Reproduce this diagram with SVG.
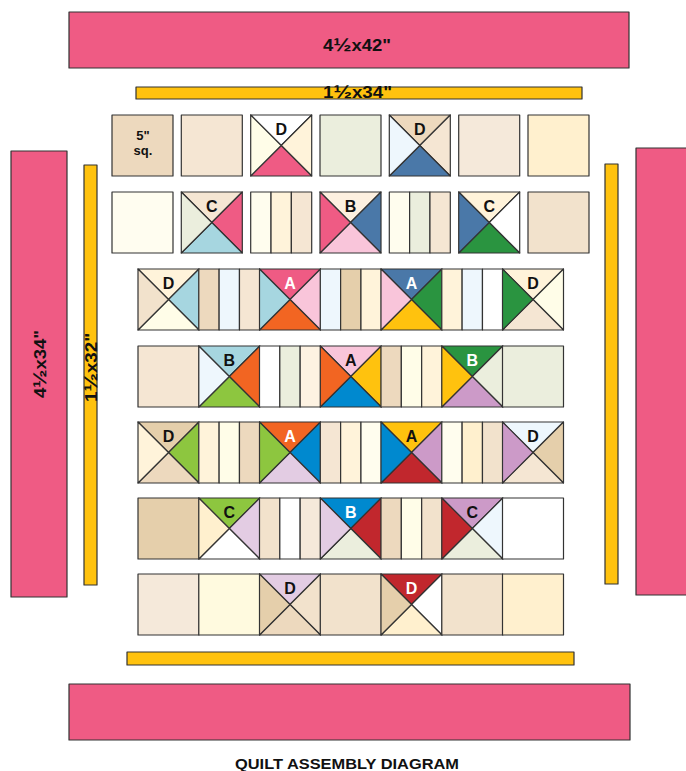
<svg xmlns="http://www.w3.org/2000/svg" xmlns:xlink="http://www.w3.org/1999/xlink" width="686" height="771" viewBox="0 0 686 771">
<style>
.s{stroke:#333;stroke-width:1.2;stroke-linejoin:round}
.pk{fill:#EF5B84}
.yl{fill:#FFC20E}
.lb{font-family:"Liberation Sans",Arial,sans-serif;font-weight:bold;font-size:16px;text-anchor:middle}
.bt{font-family:"Liberation Sans",Arial,sans-serif;font-weight:bold;text-anchor:middle;fill:#111}
.dim{font-family:"Liberation Sans",Arial,sans-serif;font-weight:bold;font-size:16px;text-anchor:middle;fill:#111;stroke:none}
</style>
<defs>
<path id="tT" d="M0,0 L61,0 L30.5,30.5Z"/>
<path id="tR" d="M61,0 L61,61 L30.5,30.5Z"/>
<path id="tB" d="M0,61 L61,61 L30.5,30.5Z"/>
<path id="tL" d="M0,0 L0,61 L30.5,30.5Z"/>
<rect id="sq" width="61" height="61"/>
<rect id="s1" x="0" width="20.33" height="61"/>
<rect id="s2" x="20.33" width="20.33" height="61"/>
<rect id="s3" x="40.67" width="20.33" height="61"/>
</defs>
<rect width="686" height="771" fill="#fff"/>

<!-- borders -->
<g id="border-top" class="s">
<rect class="pk" x="69" y="12" width="560" height="56"/>
<text class="dim" x="357" y="51" textLength="68" lengthAdjust="spacingAndGlyphs">4<tspan font-size="19">½</tspan>x42"</text>
</g>
<g id="sash-top" class="s">
<rect class="yl" x="136" y="87" width="446" height="12"/>
<text class="dim" x="357.5" y="98" textLength="69" lengthAdjust="spacingAndGlyphs">1<tspan font-size="19">½</tspan>x34"</text>
</g>
<g id="border-left" class="s">
<rect class="pk" x="11" y="151" width="56" height="446"/>
<text class="dim" transform="translate(46,364) rotate(-90)" textLength="68" lengthAdjust="spacingAndGlyphs">4<tspan font-size="19">½</tspan>x34"</text>
</g>
<g id="sash-left" class="s">
<rect class="yl" x="84" y="165" width="13" height="420"/>
<text class="dim" transform="translate(97,367.5) rotate(-90)" textLength="69" lengthAdjust="spacingAndGlyphs">1<tspan font-size="19">½</tspan>x32"</text>
</g>
<g id="sash-right" class="s"><rect class="yl" x="605" y="164" width="13" height="420"/></g>
<g id="border-right" class="s"><rect class="pk" x="636" y="148" width="60" height="447"/></g>
<g id="sash-bottom" class="s"><rect class="yl" x="127" y="652" width="447" height="13"/></g>
<g id="border-bottom" class="s"><rect class="pk" x="69" y="684" width="561" height="56"/></g>

<!-- Row 1 -->
<g id="r1b1" class="s" transform="translate(112,115)"><use href="#sq" fill="#EDD9BE"/>
<text class="bt" x="31" y="25" font-size="13" stroke="none">5"</text><text class="bt" x="31" y="40" font-size="13" stroke="none">sq.</text></g>
<g id="r1b2" class="s" transform="translate(181.3,115)"><use href="#sq" fill="#F5E6D3"/></g>
<g id="r1b3" class="s" transform="translate(250.7,115)"><use href="#tT" fill="#FFFFFF"/><use href="#tR" fill="#FFF3DA"/><use href="#tB" fill="#EF5B84"/><use href="#tL" fill="#FFFDE8"/><text class="lb" x="30.5" y="20" stroke="none" fill="#111">D</text></g>
<g id="r1b4" class="s" transform="translate(320,115)"><use href="#sq" fill="#EBEEDD"/></g>
<g id="r1b5" class="s" transform="translate(389.3,115)"><use href="#tT" fill="#EDD9BE"/><use href="#tR" fill="#F5E6D3"/><use href="#tB" fill="#4A78A8"/><use href="#tL" fill="#EEF7FD"/><text class="lb" x="30.5" y="20" stroke="none" fill="#111">D</text></g>
<g id="r1b6" class="s" transform="translate(458.7,115)"><use href="#sq" fill="#F5E9DA"/></g>
<g id="r1b7" class="s" transform="translate(528,115)"><use href="#sq" fill="#FFF0CE"/></g>

<!-- Row 2 -->
<g id="r2b1" class="s" transform="translate(112,192)"><use href="#sq" fill="#FFFDF0"/></g>
<g id="r2b2" class="s" transform="translate(181.3,192)"><use href="#tT" fill="#F5E6D3"/><use href="#tR" fill="#EF5B84"/><use href="#tB" fill="#A6D6E0"/><use href="#tL" fill="#EBEEDD"/><text class="lb" x="30.5" y="20" stroke="none" fill="#111">C</text></g>
<g id="r2b3" class="s" transform="translate(250.7,192)"><use href="#s1" fill="#FFFDEE"/><use href="#s2" fill="#FFF3DA"/><use href="#s3" fill="#F5E6D3"/></g>
<g id="r2b4" class="s" transform="translate(320,192)"><use href="#tT" fill="#FDF0E0"/><use href="#tR" fill="#4A78A8"/><use href="#tB" fill="#F9C5DA"/><use href="#tL" fill="#EF5B84"/><text class="lb" x="30.5" y="20" stroke="none" fill="#111">B</text></g>
<g id="r2b5" class="s" transform="translate(389.3,192)"><use href="#s1" fill="#FFFDEE"/><use href="#s2" fill="#EBEEDD"/><use href="#s3" fill="#F5E6D3"/></g>
<g id="r2b6" class="s" transform="translate(458.7,192)"><use href="#tT" fill="#FFF3DA"/><use href="#tR" fill="#FFFFFF"/><use href="#tB" fill="#2A9440"/><use href="#tL" fill="#4A78A8"/><text class="lb" x="30.5" y="20" stroke="none" fill="#111">C</text></g>
<g id="r2b7" class="s" transform="translate(528,192)"><use href="#sq" fill="#F2E2CC"/></g>

<!-- Row 3 -->
<g id="r3b1" class="s" transform="translate(138,269)"><use href="#tT" fill="#FFF3DA"/><use href="#tR" fill="#A6D6E0"/><use href="#tB" fill="#FFFDE8"/><use href="#tL" fill="#F2E2CC"/><text class="lb" x="30.5" y="20" stroke="none" fill="#111">D</text></g>
<g id="r3b2" class="s" transform="translate(198.8,269)"><use href="#s1" fill="#EDD9BE"/><use href="#s2" fill="#EEF7FD"/><use href="#s3" fill="#F5E6D3"/></g>
<g id="r3b3" class="s" transform="translate(259.5,269)"><use href="#tT" fill="#EF5B84"/><use href="#tR" fill="#F9C5DA"/><use href="#tB" fill="#F26522"/><use href="#tL" fill="#A6D6E0"/><text class="lb" x="30.5" y="20" stroke="none" fill="#fff">A</text></g>
<g id="r3b4" class="s" transform="translate(320.3,269)"><use href="#s1" fill="#EEF7FD"/><use href="#s2" fill="#E5CFAB"/><use href="#s3" fill="#FFF3DA"/></g>
<g id="r3b5" class="s" transform="translate(381,269)"><use href="#tT" fill="#4A78A8"/><use href="#tR" fill="#2A9440"/><use href="#tB" fill="#FFC20E"/><use href="#tL" fill="#F9C5DA"/><text class="lb" x="30.5" y="20" stroke="none" fill="#fff">A</text></g>
<g id="r3b6" class="s" transform="translate(441.8,269)"><use href="#s1" fill="#FFF3DA"/><use href="#s2" fill="#EEF7FD"/><use href="#s3" fill="#FFFFFF"/></g>
<g id="r3b7" class="s" transform="translate(502.5,269)"><use href="#tT" fill="#FFF3DA"/><use href="#tR" fill="#FFFDE8"/><use href="#tB" fill="#F5E6D3"/><use href="#tL" fill="#2A9440"/><text class="lb" x="30.5" y="20" stroke="none" fill="#111">D</text></g>

<!-- Row 4 -->
<g id="r4b1" class="s" transform="translate(138,346)"><use href="#sq" fill="#F5E6D3"/></g>
<g id="r4b2" class="s" transform="translate(198.8,346)"><use href="#tT" fill="#A6D6E0"/><use href="#tR" fill="#F26522"/><use href="#tB" fill="#8DC63F"/><use href="#tL" fill="#EEF7FD"/><text class="lb" x="30.5" y="20" stroke="none" fill="#111">B</text></g>
<g id="r4b3" class="s" transform="translate(259.5,346)"><use href="#s1" fill="#FFFFFF"/><use href="#s2" fill="#EBEEDD"/><use href="#s3" fill="#FDF2E2"/></g>
<g id="r4b4" class="s" transform="translate(320.3,346)"><use href="#tT" fill="#F9C5DA"/><use href="#tR" fill="#FFC20E"/><use href="#tB" fill="#0089CF"/><use href="#tL" fill="#F26522"/><text class="lb" x="30.5" y="20" stroke="none" fill="#111">A</text></g>
<g id="r4b5" class="s" transform="translate(381,346)"><use href="#s1" fill="#EDD9BE"/><use href="#s2" fill="#FFFDE8"/><use href="#s3" fill="#FFF3DA"/></g>
<g id="r4b6" class="s" transform="translate(441.8,346)"><use href="#tT" fill="#2A9440"/><use href="#tR" fill="#EBEEDD"/><use href="#tB" fill="#CC9AC8"/><use href="#tL" fill="#FFC20E"/><text class="lb" x="30.5" y="20" stroke="none" fill="#fff">B</text></g>
<g id="r4b7" class="s" transform="translate(502.5,346)"><use href="#sq" fill="#EBEEDD"/></g>

<!-- Row 5 -->
<g id="r5b1" class="s" transform="translate(138,422)"><use href="#tT" fill="#E5CFAB"/><use href="#tR" fill="#8DC63F"/><use href="#tB" fill="#EDD9BE"/><use href="#tL" fill="#FFF3DA"/><text class="lb" x="30.5" y="20" stroke="none" fill="#111">D</text></g>
<g id="r5b2" class="s" transform="translate(198.8,422)"><use href="#s1" fill="#FFF3DA"/><use href="#s2" fill="#FFFDE8"/><use href="#s3" fill="#EDD9BE"/></g>
<g id="r5b3" class="s" transform="translate(259.5,422)"><use href="#tT" fill="#F26522"/><use href="#tR" fill="#0089CF"/><use href="#tB" fill="#E3CCE3"/><use href="#tL" fill="#8DC63F"/><text class="lb" x="30.5" y="20" stroke="none" fill="#fff">A</text></g>
<g id="r5b4" class="s" transform="translate(320.3,422)"><use href="#s1" fill="#F5E6D3"/><use href="#s2" fill="#FFF3DA"/><use href="#s3" fill="#FFFDEE"/></g>
<g id="r5b5" class="s" transform="translate(381,422)"><use href="#tT" fill="#FFC20E"/><use href="#tR" fill="#CC9AC8"/><use href="#tB" fill="#C1272D"/><use href="#tL" fill="#0089CF"/><text class="lb" x="30.5" y="20" stroke="none" fill="#111">A</text></g>
<g id="r5b6" class="s" transform="translate(441.8,422)"><use href="#s1" fill="#FFFDEE"/><use href="#s2" fill="#FFF0CE"/><use href="#s3" fill="#F2E2CC"/></g>
<g id="r5b7" class="s" transform="translate(502.5,422)"><use href="#tT" fill="#EEF7FD"/><use href="#tR" fill="#E5CFAB"/><use href="#tB" fill="#F5E6D3"/><use href="#tL" fill="#CC9AC8"/><text class="lb" x="30.5" y="20" stroke="none" fill="#111">D</text></g>

<!-- Row 6 -->
<g id="r6b1" class="s" transform="translate(138,498)"><use href="#sq" fill="#E5CFAB"/></g>
<g id="r6b2" class="s" transform="translate(198.8,498)"><use href="#tT" fill="#8DC63F"/><use href="#tR" fill="#E3CCE3"/><use href="#tB" fill="#FFFFFF"/><use href="#tL" fill="#FFF0CE"/><text class="lb" x="30.5" y="20" stroke="none" fill="#111">C</text></g>
<g id="r6b3" class="s" transform="translate(259.5,498)"><use href="#s1" fill="#F2E2CC"/><use href="#s2" fill="#FFFFFF"/><use href="#s3" fill="#F5E9DA"/></g>
<g id="r6b4" class="s" transform="translate(320.3,498)"><use href="#tT" fill="#0089CF"/><use href="#tR" fill="#C1272D"/><use href="#tB" fill="#EBEEDD"/><use href="#tL" fill="#E3CCE3"/><text class="lb" x="30.5" y="20" stroke="none" fill="#fff">B</text></g>
<g id="r6b5" class="s" transform="translate(381,498)"><use href="#s1" fill="#EDD9BE"/><use href="#s2" fill="#FFFDE8"/><use href="#s3" fill="#F2E2CC"/></g>
<g id="r6b6" class="s" transform="translate(441.8,498)"><use href="#tT" fill="#CC9AC8"/><use href="#tR" fill="#EEF7FD"/><use href="#tB" fill="#EBEEDD"/><use href="#tL" fill="#C1272D"/><text class="lb" x="30.5" y="20" stroke="none" fill="#111">C</text></g>
<g id="r6b7" class="s" transform="translate(502.5,498)"><use href="#sq" fill="#FFFFFF"/></g>

<!-- Row 7 -->
<g id="r7b1" class="s" transform="translate(138,574)"><use href="#sq" fill="#F5E9DA"/></g>
<g id="r7b2" class="s" transform="translate(198.8,574)"><use href="#sq" fill="#FFFADF"/></g>
<g id="r7b3" class="s" transform="translate(259.5,574)"><use href="#tT" fill="#E3CCE3"/><use href="#tR" fill="#F2E2CC"/><use href="#tB" fill="#EDD9BE"/><use href="#tL" fill="#E5CFAB"/><text class="lb" x="30.5" y="20" stroke="none" fill="#111">D</text></g>
<g id="r7b4" class="s" transform="translate(320.3,574)"><use href="#sq" fill="#F2E2CC"/></g>
<g id="r7b5" class="s" transform="translate(381,574)"><use href="#tT" fill="#C1272D"/><use href="#tR" fill="#FFFFFF"/><use href="#tB" fill="#FFF0CE"/><use href="#tL" fill="#E5CFAB"/><text class="lb" x="30.5" y="20" stroke="none" fill="#fff">D</text></g>
<g id="r7b6" class="s" transform="translate(441.8,574)"><use href="#sq" fill="#F2E2CC"/></g>
<g id="r7b7" class="s" transform="translate(502.5,574)"><use href="#sq" fill="#FFF0CE"/></g>

<g id="caption"><text class="bt" x="347" y="769" font-size="15" textLength="224" lengthAdjust="spacingAndGlyphs">QUILT ASSEMBLY DIAGRAM</text></g>
</svg>
